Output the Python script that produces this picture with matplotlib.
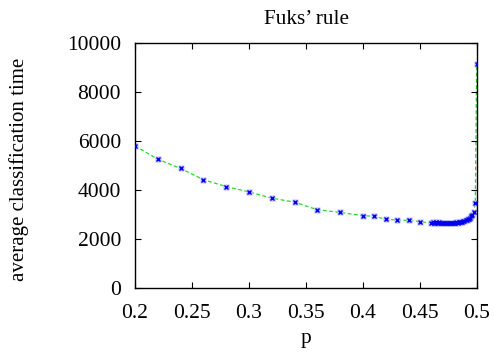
import matplotlib
matplotlib.use("Agg")
import matplotlib.pyplot as plt

# data
p = [0.20, 0.22, 0.24, 0.26, 0.28, 0.30, 0.32, 0.34, 0.36, 0.38,
     0.40, 0.41, 0.42, 0.43, 0.44, 0.45,
     0.460, 0.461, 0.462, 0.463, 0.464, 0.465, 0.466, 0.467, 0.468, 0.469,
     0.470, 0.471, 0.472, 0.473, 0.474, 0.475, 0.476, 0.477, 0.478, 0.479,
     0.480, 0.481, 0.482, 0.483, 0.484, 0.485, 0.486, 0.487, 0.488, 0.489,
     0.490, 0.491, 0.492, 0.493, 0.494, 0.495, 0.496, 0.497, 0.4985, 0.4997]
t = [5800, 5260, 4880, 4420, 4140, 3920, 3665, 3500, 3190, 3080,
     2950, 2920, 2800, 2770, 2755, 2700,
     2650, 2680, 2640, 2660, 2690, 2650, 2640, 2670, 2650, 2660,
     2640, 2650, 2660, 2640, 2650, 2660, 2650, 2640, 2650, 2660,
     2650, 2660, 2670, 2660, 2680, 2690, 2700, 2700, 2720, 2740,
     2760, 2780, 2800, 2830, 2870, 2920, 2990, 3080, 3450, 9150]

plt.rcParams['font.family'] = ['Liberation Serif', 'DejaVu Serif']
plt.rcParams['font.size'] = 15.5

fig = plt.figure(figsize=(4.94, 3.56), dpi=100)
ax = fig.add_axes([0.2733, 0.192, 0.6923, 0.686])

ax.plot(p, t, linestyle='--', color='#22dd22', linewidth=0.9, dashes=(3, 2), zorder=1)
ax.plot(p, t, linestyle='none', marker='s', markersize=4.5, markerfacecolor='#b8b8ff',
        markeredgecolor='none', zorder=2)
ax.plot(p, t, linestyle='none', marker='x', markersize=3.5, color='#0000ee',
        markeredgewidth=1.0, zorder=3)

ax.set_xlim(0.2, 0.5)
ax.set_ylim(0, 10000)
ax.set_xticks([0.2, 0.25, 0.3, 0.35, 0.4, 0.45, 0.5])
ax.set_xticklabels(['0.2', '0.25', '0.3', '0.35', '0.4', '0.45', '0.5'])
ax.set_yticks([0, 2000, 4000, 6000, 8000, 10000])
ax.tick_params(direction='in', top=True, right=True, length=4, width=0.8)
ax.tick_params(axis='y', pad=10)
ax.tick_params(axis='x', pad=12)
for s in ax.spines.values():
    s.set_linewidth(1.0)

ax.set_title("Fuks\u2019 rule", pad=14, fontsize=15.2)
ax.set_xlabel("p", labelpad=4)
ax.set_ylabel("average classification time", fontsize=15)
ax.yaxis.set_label_coords(-0.31, 0.486)

fig.savefig("out.png", dpi=100)
